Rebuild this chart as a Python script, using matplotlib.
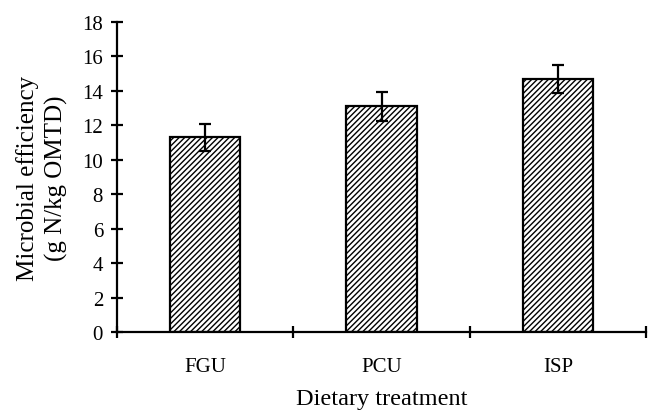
import matplotlib
matplotlib.use("Agg")
import matplotlib.pyplot as plt
import numpy as np

categories = ["FGU", "PCU", "ISP"]
values = [11.3, 13.1, 14.7]
errors = [0.8, 0.85, 0.82]
yticks = [0, 2, 4, 6, 8, 10, 12, 14, 16, 18]

plt.rcParams['font.family'] = ['Liberation Serif', 'DejaVu Serif']
plt.rcParams['hatch.linewidth'] = 1.0

fig = plt.figure(figsize=(6.48, 4.14), dpi=100)
ax = fig.add_axes([117/648, 1-333/414, (646-117)/648, (333-23)/414])

x = np.arange(len(categories))
ax.bar(x, values, width=0.4, color='white', edgecolor='black', linewidth=1.6,
       hatch='//////', zorder=2)
ax.errorbar(x, values, yerr=errors, fmt='none', ecolor='black', elinewidth=1.6,
            capsize=4.5, capthick=1.6, zorder=3)

ax.set_xlim(-0.5, len(categories) - 0.5)
ax.set_ylim(0, 18)
ax.set_yticks(yticks)
ax.set_yticklabels([str(t) for t in yticks])

ax.set_xticks(np.arange(len(categories) + 1) - 0.5)
ax.set_xticklabels([])
ax.set_xticks(x, minor=True)
ax.set_xticklabels(categories, minor=True)

for s in ['top', 'right']:
    ax.spines[s].set_visible(False)
for s in ['left', 'bottom']:
    ax.spines[s].set_linewidth(1.6)

ax.tick_params(axis='both', which='major', direction='inout', length=8, width=1.6,
               labelsize=15)
ax.tick_params(axis='x', which='minor', length=0, pad=18, labelsize=15)
ax.tick_params(axis='y', pad=6)

ax.set_xlabel("Dietary treatment", fontsize=17.5, labelpad=9)
ax.set_ylabel("Microbial efficiency\n(g N/kg OMTD)", fontsize=18, labelpad=10,
              linespacing=1.35)

fig.savefig("out.png", dpi=100)
